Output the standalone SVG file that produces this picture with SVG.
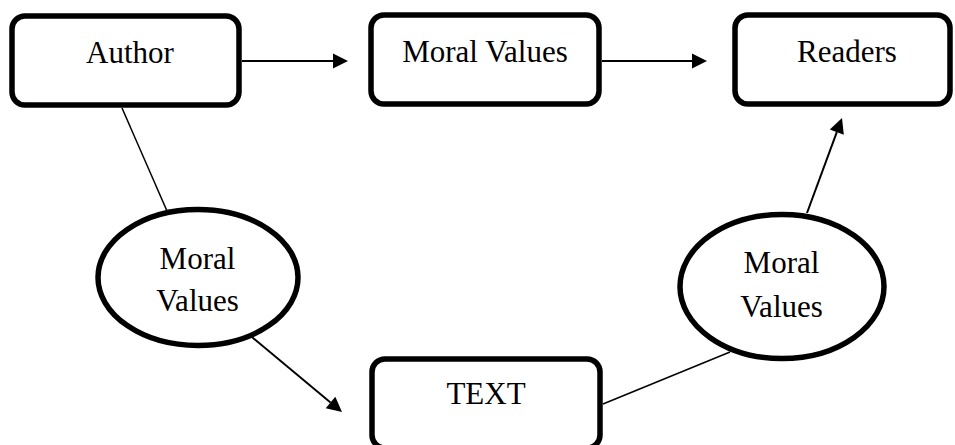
<svg xmlns="http://www.w3.org/2000/svg" width="955" height="445" viewBox="0 0 955 445">
<style>
.box{fill:#fff;stroke:#000;stroke-width:5.5}
.ell{fill:#fff;stroke:#000;stroke-width:5.5}
.lbl{font-family:"Liberation Serif","Times New Roman",serif;font-size:31px;fill:#000;text-anchor:middle}
.arr{stroke:#000;stroke-width:2;fill:none}
.thin{stroke:#000;stroke-width:1.5;fill:none}
</style>
<defs>
<marker id="ah" markerUnits="userSpaceOnUse" markerWidth="16" markerHeight="16" viewBox="0 -8 16 16" refX="0" refY="0" orient="auto" overflow="visible">
<path d="M0,-7.5 L15,0 L0,7.5 z" fill="#000"/>
</marker>
</defs>
<rect width="955" height="445" fill="#fff"/>
<g id="connectors">
<line class="arr" x1="242" y1="61" x2="333" y2="61" marker-end="url(#ah)"/>
<line class="arr" x1="602" y1="61" x2="692" y2="61" marker-end="url(#ah)"/>
<line class="thin" x1="122" y1="108" x2="167" y2="211"/>
<line class="arr" x1="247" y1="333" x2="330.5" y2="402.4" marker-end="url(#ah)"/>
<line class="thin" x1="603" y1="404" x2="730" y2="352"/>
<line class="arr" x1="807" y1="213" x2="836.8" y2="132.1" marker-end="url(#ah)"/>
</g>
<g id="author">
<rect class="box" x="12" y="16" width="227" height="89" rx="13"/>
<text class="lbl" x="130" y="63">Author</text>
</g>
<g id="moral-values-box">
<rect class="box" x="371" y="15" width="228" height="89" rx="13"/>
<text class="lbl" x="485" y="62">Moral Values</text>
</g>
<g id="readers">
<rect class="box" x="735" y="15" width="215" height="89" rx="13"/>
<text class="lbl" x="847" y="62">Readers</text>
</g>
<g id="text-box">
<rect class="box" x="372" y="359" width="228" height="89" rx="13"/>
<text class="lbl" x="486" y="404">TEXT</text>
</g>
<g id="moral-values-left">
<ellipse class="ell" cx="198" cy="277.5" rx="100" ry="68"/>
<text class="lbl" x="197.5" y="269">Moral</text>
<text class="lbl" x="197.5" y="311">Values</text>
</g>
<g id="moral-values-right">
<ellipse class="ell" cx="782" cy="286.5" rx="102" ry="72"/>
<text class="lbl" x="781.5" y="273">Moral</text>
<text class="lbl" x="781.5" y="317">Values</text>
</g>
</svg>
